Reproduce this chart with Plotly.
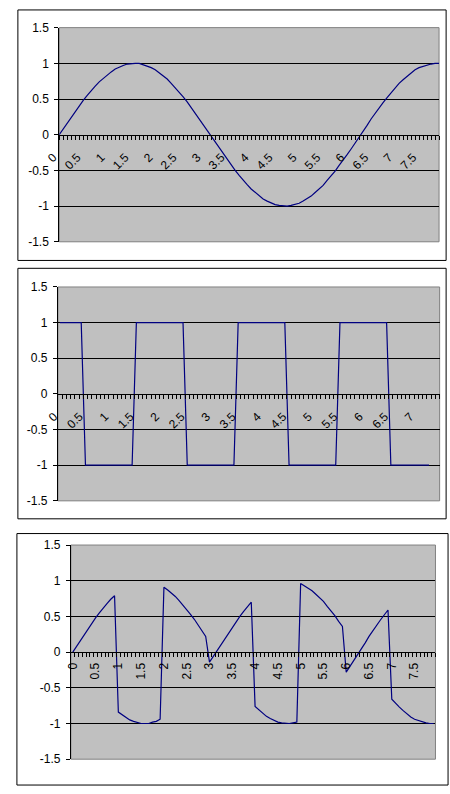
import plotly.graph_objects as go

FIG_W, FIG_H = 450, 794
LINE_COLOR = "#000080"
FONT = dict(family="Liberation Sans, Arial, sans-serif", size=12, color="black")

# categories: one point every 1/12
sine_x = [k / 12 for k in range(96)]
sine_y = [
    0.00, 0.08, 0.17, 0.25, 0.33, 0.40, 0.48, 0.55, 0.62, 0.68, 0.74, 0.79,
    0.84, 0.88, 0.92, 0.95, 0.97, 0.99, 1.00, 1.00, 1.00, 0.98, 0.97, 0.94,
    0.91, 0.87, 0.83, 0.78, 0.72, 0.66, 0.60, 0.53, 0.46, 0.38, 0.30, 0.22,
    0.14, 0.06, -0.03, -0.11, -0.19, -0.27, -0.35, -0.43, -0.50, -0.57, -0.64, -0.70,
    -0.76, -0.81, -0.86, -0.90, -0.93, -0.96, -0.98, -0.99, -1.00, -1.00, -0.99, -0.98,
    -0.96, -0.93, -0.90, -0.86, -0.81, -0.76, -0.71, -0.64, -0.58, -0.51, -0.43, -0.36,
    -0.28, -0.20, -0.12, -0.03, 0.05, 0.13, 0.22, 0.30, 0.37, 0.45, 0.52, 0.59,
    0.66, 0.72, 0.77, 0.82, 0.87, 0.91, 0.94, 0.96, 0.98, 0.99, 1.00, 1.00,
]

square_x = [k / 12 for k in range(88)]
square_y = [
    1, 1, 1, 1, 1, 1, -1, -1, -1, -1, -1, -1,
    -1, -1, -1, -1, -1, -1, 1, 1, 1, 1, 1, 1,
    1, 1, 1, 1, 1, 1, -1, -1, -1, -1, -1, -1,
    -1, -1, -1, -1, -1, -1, 1, 1, 1, 1, 1, 1,
    1, 1, 1, 1, 1, 1, -1, -1, -1, -1, -1, -1,
    -1, -1, -1, -1, -1, -1, 1, 1, 1, 1, 1, 1,
    1, 1, 1, 1, 1, 1, -1, -1, -1, -1, -1, -1,
    -1, -1, -1, -1,
]

mixed_x = [k / 12 for k in range(96)]
mixed_y = [
    0.00, 0.08, 0.17, 0.25, 0.33, 0.40, 0.48, 0.55, 0.62, 0.68, 0.74, 0.79,
    -0.84, -0.88, -0.92, -0.95, -0.97, -0.99, -1.00, -1.00, -1.00, -0.98, -0.97, -0.94,
    0.91, 0.87, 0.83, 0.78, 0.72, 0.66, 0.60, 0.53, 0.46, 0.38, 0.30, 0.22,
    -0.14, -0.06, 0.03, 0.11, 0.19, 0.27, 0.35, 0.43, 0.50, 0.57, 0.64, 0.70,
    -0.76, -0.81, -0.86, -0.90, -0.93, -0.96, -0.98, -0.99, -1.00, -1.00, -0.99, -0.98,
    0.96, 0.93, 0.90, 0.86, 0.81, 0.76, 0.71, 0.64, 0.58, 0.51, 0.43, 0.36,
    -0.28, -0.20, -0.12, -0.03, 0.05, 0.13, 0.22, 0.30, 0.37, 0.45, 0.52, 0.59,
    -0.66, -0.72, -0.77, -0.82, -0.87, -0.91, -0.94, -0.96, -0.98, -0.99, -1.00, -1.00,
]

x_tick_vals = [0, 0.5, 1, 1.5, 2, 2.5, 3, 3.5, 4, 4.5, 5, 5.5, 6, 6.5, 7, 7.5]
x_tick_text = ["0", "0.5", "1", "1.5", "2", "2.5", "3", "3.5",
               "4", "4.5", "5", "5.5", "6", "6.5", "7", "7.5"]
y_tick_vals = [-1.5, -1, -0.5, 0, 0.5, 1, 1.5]
y_tick_text = ["-1.5", "-1", "-0.5", "0", "0.5", "1", "1.5"]
y_grid_vals = [-1, -0.5, 0.5, 1]

# pixel boxes: plot area (l, t, r, b) and chart frame (l, t, r, b)
panels = [
    dict(x=sine_x, y=sine_y, plot=(46.7, 21, 438.7, 239), frame=(4, 3, 446, 258),
         xrange=[0, 95 / 12], minor0=0, nlab=16, angle=-45, on_ticks=True,
         shift=-6, standoff=6),
    dict(x=square_x, y=square_y, plot=(45.3, 285, 439.3, 502.7), frame=(4, 266, 446, 521),
         xrange=[-1 / 24, 89.5 / 12], minor0=1 / 24, nlab=15, angle=-45, on_ticks=False,
         shift=-6, standoff=10),
    dict(x=mixed_x, y=mixed_y, plot=(58.7, 547.7, 435, 765.7), frame=(3, 536, 448, 792),
         xrange=[-1 / 24, 95.5 / 12], minor0=1 / 24, nlab=16, angle=-90, on_ticks=False,
         shift=0, standoff=5),
]

fig = go.Figure()
shapes = []
for i, p in enumerate(panels, start=1):
    sfx = "" if i == 1 else str(i)
    l, t, r, b = p["plot"]
    ydom = [1 - b / FIG_H, 1 - t / FIG_H]
    xdom = [l / FIG_W, r / FIG_W]

    fig.add_trace(go.Scatter(
        x=p["x"], y=p["y"], mode="lines",
        line=dict(color=LINE_COLOR, width=1.2),
        xaxis="x" + sfx, yaxis="y" + sfx,
        showlegend=False, hoverinfo="skip",
    ))

    fig.layout["xaxis" + sfx] = dict(
        domain=xdom, anchor="free", position=(ydom[0] + ydom[1]) / 2,
        range=p["xrange"], showgrid=False, zeroline=False,
        showline=True, linecolor="black", linewidth=1,
        tickmode="array", tickvals=x_tick_vals[:p["nlab"]], ticktext=x_tick_text[:p["nlab"]],
        ticks="outside", ticklen=4 if p["on_ticks"] else 0, tickcolor="black", tickwidth=1,
        tickangle=p["angle"], tickfont=FONT,
        ticklabelshift=p["shift"], ticklabelstandoff=p["standoff"],
        minor=dict(tick0=p["minor0"], dtick=1 / 12, ticks="outside", ticklen=4,
                   tickcolor="black", tickwidth=1, showgrid=False),
    )
    fig.layout["yaxis" + sfx] = dict(
        domain=ydom, anchor="x" + sfx, range=[-1.5, 1.5],
        tickmode="array", tickvals=y_tick_vals, ticktext=y_tick_text,
        showgrid=False, zeroline=False,
        showline=True, linecolor="black", linewidth=1,
        ticks="outside", ticklen=4, tickcolor="black", tickwidth=1,
        tickfont=FONT, ticklabelstandoff=3,
        minor=dict(tickmode="array", tickvals=y_grid_vals, ticks="",
                   showgrid=True, gridcolor="black", gridwidth=1),
    )

    # grey plot-area border
    shapes.append(dict(type="rect", xref="x" + sfx + " domain", yref="y" + sfx + " domain",
                       x0=0, x1=1, y0=0, y1=1, layer="below",
                       line=dict(color="#808080", width=1)))
    # chart frame
    fl, ft, fr, fb = p["frame"]
    shapes.append(dict(type="rect", xref="paper", yref="paper",
                       x0=fl / FIG_W, x1=fr / FIG_W, y0=1 - fb / FIG_H, y1=1 - ft / FIG_H,
                       line=dict(color="black", width=1)))

fig.update_layout(
    width=FIG_W, height=FIG_H,
    margin=dict(l=0, r=0, t=0, b=0),
    paper_bgcolor="white", plot_bgcolor="#C0C0C0",
    font=FONT, shapes=shapes,
)

fix_page = (
    "document.body.style.margin='0';"
    "document.documentElement.style.overflow='hidden';"
    "var d=document.getElementsByClassName('plotly-graph-div')[0];"
    "d.style.position='absolute';d.style.left='0px';d.style.top='0px';"
)
fig.write_html("out.html", config={"displayModeBar": False}, post_script=fix_page)
